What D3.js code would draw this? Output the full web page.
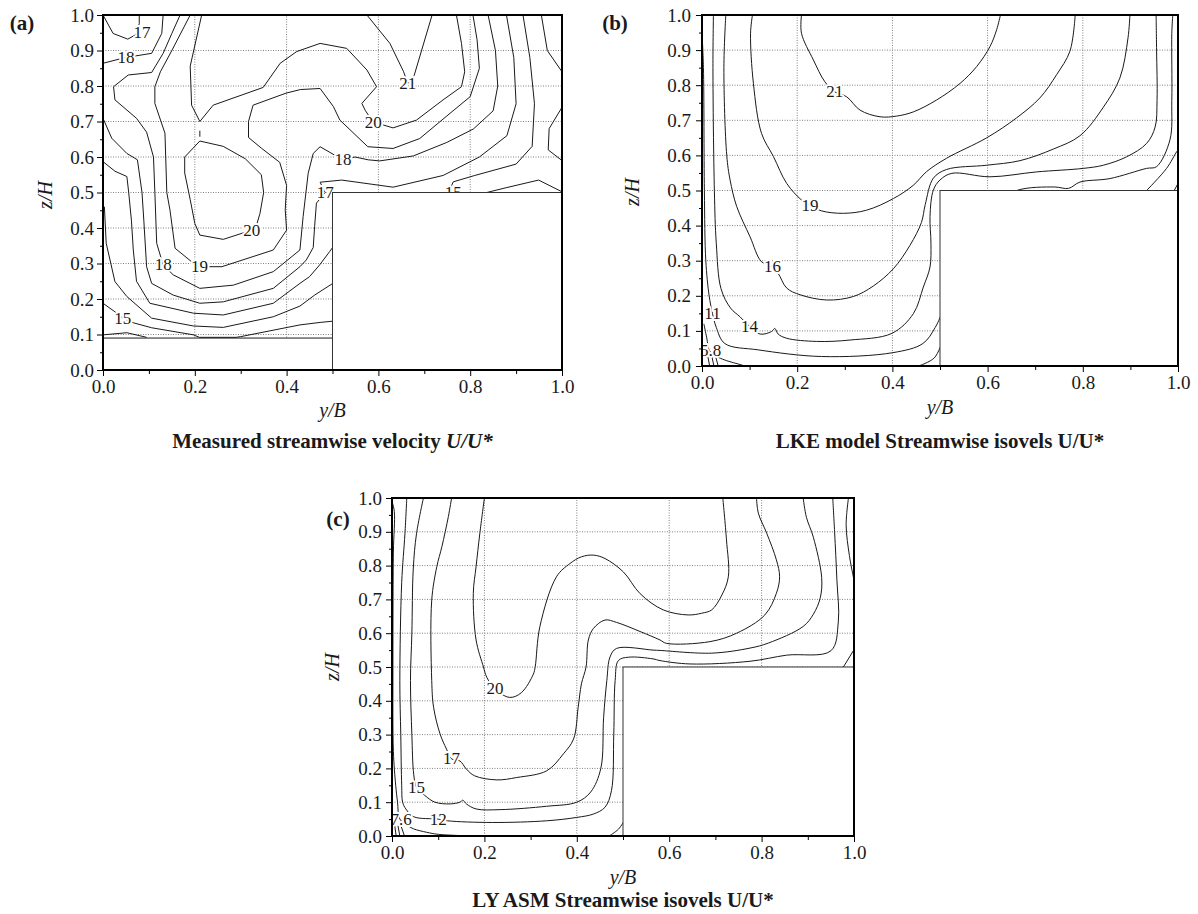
<!DOCTYPE html>
<html>
<head>
<meta charset="utf-8">
<script src="https://d3js.org/d3.v7.min.js"></script>
<style>
body { margin: 0; background: #fff; }
svg text { font-family: "Liberation Serif", "Times New Roman", serif; fill: #1a1a1a; }
.grid line { stroke: #808080; stroke-width: 1; stroke-dasharray: 1,1.5; }
.iso { fill: none; stroke: #1a1a1a; stroke-width: 1; }
.isolabel { font-size: 17px; text-anchor: middle; dominant-baseline: central;
  stroke: #fff; stroke-width: 4px; paint-order: stroke; stroke-linejoin: round; }
.axis .tick text { font-size: 19px; }
.axis .tick line { stroke: #000; }
.title { font-size: 21px; font-weight: bold; text-anchor: middle; }
.letter { font-size: 21px; font-weight: bold; text-anchor: middle; }
.axlabel { font-size: 20px; font-style: italic; text-anchor: middle; }
</style>
</head>
<body>
<svg id="chart" width="1198" height="914"></svg>
<script>
// tick values
var yTicks = [0, 0.1, 0.2, 0.3, 0.4, 0.5, 0.6, 0.7, 0.8, 0.9, 1.0];
var yMinor = [0.05, 0.15, 0.25, 0.35, 0.45, 0.55, 0.65, 0.75, 0.85, 0.95];
var xTicks = [0, 0.2, 0.4, 0.6, 0.8, 1.0];
var xMinor = [0.1, 0.3, 0.5, 0.7, 0.9];
var gridX = [0.2, 0.4, 0.6, 0.8];
var gridZ = [0.1, 0.2, 0.3, 0.4, 0.5, 0.6, 0.7, 0.8, 0.9];

// (a) measured isovels, points are [y/B, z/H]
var isovelsA = [
  [[0,1],[0.022,0.948],[0.054,0.932],[0.072,0.945],[0.079,0.976],[0.079,1]],
  [[0,0.864],[0.048,0.88],[0.106,0.892],[0.128,0.948],[0.131,1]],
  [[0.168,1],[0.15,0.948],[0.131,0.892],[0.106,0.838],[0.055,0.831],[0.023,0.798],[0.026,0.761],[0.073,0.709],[0.095,0.67],[0.11,0.6],[0.113,0.5],[0.117,0.357],[0.131,0.296],[0.153,0.268],[0.211,0.23],[0.284,0.239],[0.371,0.277],[0.429,0.338],[0.436,0.432],[0.447,0.554],[0.458,0.61],[0.473,0.629],[0.505,0.605],[0.523,0.592],[0.549,0.6],[0.578,0.592],[0.603,0.589],[0.676,0.603],[0.749,0.641],[0.807,0.679],[0.85,0.73],[0.86,0.8],[0.855,0.9],[0.839,1]],
  [[0.19,1],[0.15,0.9],[0.125,0.84],[0.113,0.798],[0.113,0.751],[0.135,0.667],[0.139,0.5],[0.146,0.45],[0.157,0.343],[0.193,0.305],[0.21,0.291],[0.259,0.291],[0.371,0.338],[0.4,0.394],[0.397,0.451],[0.4,0.52],[0.385,0.585],[0.345,0.625],[0.317,0.655],[0.317,0.7],[0.327,0.746],[0.399,0.78],[0.43,0.79],[0.473,0.793],[0.502,0.742],[0.516,0.704],[0.577,0.629],[0.632,0.624],[0.69,0.652],[0.756,0.723],[0.8,0.77],[0.82,0.85],[0.815,0.93],[0.806,1]],
  [[0,0.709],[0.019,0.653],[0.052,0.61],[0.075,0.592],[0.085,0.5],[0.089,0.42],[0.095,0.291],[0.106,0.244],[0.153,0.211],[0.211,0.188],[0.262,0.192],[0.371,0.23],[0.429,0.291],[0.443,0.31],[0.458,0.345],[0.461,0.404],[0.465,0.47],[0.484,0.5],[0.473,0.529],[0.52,0.535],[0.632,0.515],[0.741,0.548],[0.82,0.6],[0.88,0.66],[0.9,0.75],[0.895,0.88],[0.879,1]],
  [[0,0.587],[0.026,0.56],[0.052,0.545],[0.056,0.5],[0.062,0.42],[0.066,0.338],[0.073,0.25],[0.102,0.188],[0.197,0.16],[0.262,0.155],[0.371,0.188],[0.429,0.244],[0.45,0.263],[0.472,0.296],[0.494,0.334],[0.52,0.38]],
  [[0.003,0.46],[0.007,0.357],[0.026,0.249],[0.052,0.207],[0.106,0.146],[0.197,0.124],[0.262,0.12],[0.371,0.15],[0.429,0.18],[0.461,0.211],[0.52,0.26]],
  [[0,0.188],[0.026,0.164],[0.043,0.146],[0.066,0.133],[0.106,0.119],[0.197,0.099],[0.21,0.092],[0.29,0.092],[0.3,0.094],[0.429,0.127],[0.473,0.134],[0.52,0.14]],
  [[0,0.099],[0.052,0.105],[0.095,0.092]],
  [[0.342,0.441],[0.335,0.41],[0.324,0.394],[0.262,0.368],[0.211,0.38],[0.2,0.413],[0.19,0.48],[0.178,0.555],[0.178,0.6],[0.211,0.645],[0.262,0.63],[0.31,0.595],[0.345,0.55],[0.35,0.5],[0.342,0.441]],
  [[0.211,0.657],[0.211,0.674]],
  [[0.215,1],[0.19,0.856],[0.193,0.746],[0.211,0.7],[0.24,0.746],[0.349,0.796],[0.386,0.864],[0.422,0.897],[0.473,0.92],[0.531,0.906],[0.575,0.845],[0.596,0.798],[0.564,0.751],[0.571,0.732],[0.589,0.697],[0.611,0.69],[0.632,0.682],[0.683,0.704],[0.741,0.761],[0.781,0.798],[0.788,0.84],[0.781,0.92],[0.77,1]],
  [[0.575,1],[0.625,0.92],[0.655,0.84],[0.664,0.807],[0.678,0.83],[0.717,1]],
  [[0.753,0.5],[0.763,0.53],[0.81,0.548],[0.9,0.58],[0.935,0.63],[0.94,0.75],[0.93,0.88],[0.915,1]],
  [[0.836,0.5],[0.88,0.514],[0.949,0.535],[1,0.502]],
  [[0.955,1],[0.968,0.9],[1,0.84]],
  [[1,0.74],[0.972,0.68],[0.97,0.62],[1,0.59]]
];
var labelsA = [
  ["17", 0.085, 0.952], ["18", 0.05, 0.88], ["21", 0.664, 0.807], ["20", 0.589, 0.697],
  ["18", 0.523, 0.592], ["17", 0.484, 0.5], ["15", 0.763, 0.5], ["20", 0.324, 0.394],
  ["18", 0.131, 0.296], ["19", 0.21, 0.291], ["15", 0.043, 0.146]
];

// (b) LKE model isovels
var isovelsB = [
  [[0,0.95],[0.003,0.85],[0.005,0.5],[0.008,0.3],[0.015,0.2],[0.022,0.15],[0.03,0.11],[0.048,0.064],[0.118,0.046],[0.251,0.027],[0.401,0.038],[0.464,0.064],[0.49,0.11],[0.51,0.17],[0.6,0.45],[0.661,0.5],[0.741,0.51],[0.77,0.506],[0.794,0.524],[0.857,0.534],[0.934,0.563],[0.955,0.568],[0.983,0.644],[0.987,0.757],[0.987,0.948],[0.989,1]],
  [[0.024,1],[0.023,0.85],[0.026,0.5],[0.03,0.35],[0.04,0.22],[0.06,0.165],[0.08,0.14],[0.1,0.113],[0.122,0.091],[0.146,0.098],[0.153,0.107],[0.16,0.091],[0.178,0.079],[0.241,0.07],[0.311,0.074],[0.399,0.093],[0.444,0.149],[0.465,0.225],[0.479,0.282],[0.481,0.35],[0.479,0.426],[0.486,0.501],[0.5,0.53],[0.525,0.549],[0.605,0.539],[0.703,0.553],[0.801,0.563],[0.843,0.572],[0.892,0.596],[0.934,0.634],[0.952,0.681],[0.956,0.757],[0.955,0.9],[0.954,1]],
  [[0.05,1],[0.046,0.85],[0.052,0.6],[0.059,0.53],[0.073,0.454],[0.101,0.368],[0.125,0.297],[0.148,0.283],[0.16,0.264],[0.178,0.222],[0.206,0.203],[0.262,0.188],[0.318,0.198],[0.36,0.228],[0.402,0.277],[0.437,0.344],[0.461,0.409],[0.469,0.46],[0.486,0.535],[0.514,0.56],[0.598,0.572],[0.668,0.585],[0.738,0.618],[0.794,0.656],[0.843,0.737],[0.878,0.821],[0.895,0.935],[0.899,1]],
  [[0.106,1],[0.102,0.948],[0.108,0.805],[0.125,0.663],[0.15,0.597],[0.178,0.52],[0.209,0.473],[0.227,0.458],[0.251,0.442],[0.297,0.435],[0.346,0.444],[0.402,0.477],[0.444,0.515],[0.472,0.554],[0.514,0.592],[0.598,0.65],[0.661,0.707],[0.71,0.764],[0.745,0.83],[0.773,0.897],[0.784,1]],
  [[0.209,1],[0.209,0.948],[0.234,0.872],[0.258,0.81],[0.279,0.781],[0.304,0.767],[0.332,0.729],[0.374,0.71],[0.409,0.712],[0.444,0.724],[0.493,0.758],[0.542,0.805],[0.577,0.853],[0.605,0.91],[0.619,0.958],[0.627,1]],
  [[0.004,0.12],[0.01,0.08],[0.016,0.043],[0.03,0.028],[0.048,0.017],[0.083,0.003],[0.09,0]],
  [[0.012,0.03],[0.016,0]], [[0.02,0.032],[0.025,0]], [[0.028,0.03],[0.034,0]],
  [[0.455,0],[0.488,0.023],[0.505,0.07]],
  [[0.934,0.5],[0.976,0.563],[0.997,0.61],[1,0.615]],
  [[0.992,0.5],[1,0.52]]
];
var labelsB = [
  ["21", 0.279, 0.781], ["19", 0.227, 0.458], ["16", 0.148, 0.283],
  ["11", 0.022, 0.15], ["14", 0.1, 0.113], ["5.8", 0.018, 0.043]
];

// (c) LY ASM isovels
var isovelsC = [
  [[0,0.99],[0.005,0.96],[0.003,0.84],[0.002,0.5],[0.003,0.25],[0.008,0.15],[0.012,0.1],[0.017,0.05],[0.035,0.03],[0.047,0.021],[0.075,0.011],[0.1,0.005],[0.176,0]],
  [[0.032,1],[0.028,0.894],[0.021,0.75],[0.017,0.46],[0.019,0.3],[0.021,0.15],[0.023,0.1],[0.03,0.08],[0.047,0.057],[0.1,0.05],[0.12,0.045],[0.217,0.04],[0.335,0.045],[0.4,0.055],[0.436,0.065],[0.461,0.085],[0.475,0.134],[0.48,0.3],[0.483,0.46],[0.49,0.519],[0.512,0.529],[0.565,0.524],[0.58,0.519],[0.645,0.509],[0.775,0.517],[0.854,0.535],[0.95,0.548],[0.966,0.633],[0.963,0.757],[0.958,0.9],[0.954,1]],
  [[0.068,1],[0.053,0.894],[0.046,0.79],[0.043,0.6],[0.04,0.46],[0.043,0.3],[0.047,0.183],[0.053,0.144],[0.071,0.12],[0.093,0.1],[0.126,0.095],[0.147,0.1],[0.153,0.106],[0.161,0.095],[0.182,0.08],[0.234,0.078],[0.335,0.088],[0.4,0.1],[0.43,0.13],[0.452,0.2],[0.458,0.35],[0.465,0.46],[0.472,0.53],[0.486,0.555],[0.565,0.55],[0.58,0.549],[0.692,0.541],[0.775,0.556],[0.815,0.571],[0.89,0.62],[0.912,0.656],[0.927,0.705],[0.93,0.765],[0.912,0.884],[0.897,0.943],[0.89,1]],
  [[0.129,1],[0.122,0.945],[0.108,0.856],[0.097,0.797],[0.086,0.698],[0.086,0.46],[0.09,0.381],[0.104,0.302],[0.118,0.257],[0.129,0.228],[0.147,0.222],[0.161,0.198],[0.179,0.178],[0.227,0.166],[0.27,0.173],[0.335,0.193],[0.371,0.243],[0.393,0.287],[0.403,0.381],[0.41,0.45],[0.42,0.5],[0.425,0.58],[0.436,0.614],[0.461,0.639],[0.486,0.632],[0.537,0.605],[0.58,0.58],[0.594,0.57],[0.688,0.575],[0.746,0.6],[0.807,0.654],[0.832,0.718],[0.839,0.767],[0.832,0.817],[0.811,0.896],[0.793,0.955],[0.789,1]],
  [[0.2,1],[0.19,0.894],[0.182,0.797],[0.176,0.718],[0.182,0.58],[0.198,0.5],[0.205,0.47],[0.223,0.435],[0.255,0.41],[0.28,0.424],[0.306,0.479],[0.31,0.501],[0.32,0.619],[0.356,0.767],[0.385,0.806],[0.41,0.826],[0.436,0.831],[0.461,0.821],[0.501,0.781],[0.537,0.717],[0.587,0.669],[0.641,0.654],[0.67,0.659],[0.692,0.669],[0.714,0.713],[0.728,0.767],[0.724,0.876],[0.716,1]],
  [[0.988,1],[0.983,0.92],[0.99,0.83],[1,0.757]],
  [[0.977,0.5],[0.999,0.549]],
  [[0.006,0.03],[0.009,0]], [[0.013,0.03],[0.017,0]], [[0.02,0.028],[0.027,0]],
  [[0.47,0],[0.49,0.02],[0.505,0.05]]
];
var labelsC = [
  ["20", 0.223, 0.435], ["17", 0.129, 0.228], ["15", 0.053, 0.144],
  ["12", 0.1, 0.05], ["7.6", 0.02, 0.05]
];

var panels = [
  { letter: "(a)", lines: isovelsA, labels: labelsA, curve: d3.curveLinear,
    left: 103, top: 15, w: 459, h: 355, tickGap: 3, letterPos: [22, 30], zPos: [45, 195],
    yLabelY: 417, titleY: 448, mask: true,
    title: [["Measured streamwise velocity ", false], ["U/U*", true]] },
  { letter: "(b)", lines: isovelsB, labels: labelsB, curve: d3.curveCatmullRom.alpha(0.5),
    left: 702, top: 15, w: 476, h: 351, tickGap: 5, letterPos: [615, 30], zPos: [632, 192],
    yLabelY: 414, titleY: 448, mask: false,
    title: [["LKE model Streamwise isovels U/U*", false]] },
  { letter: "(c)", lines: isovelsC, labels: labelsC, curve: d3.curveCatmullRom.alpha(0.5),
    left: 392, top: 498, w: 462, h: 338, tickGap: 4, letterPos: [338, 526], zPos: [332, 667],
    yLabelY: 884, titleY: 907, mask: false,
    title: [["LY ASM Streamwise isovels U/U*", false]] }
];

var svg = d3.select("#chart");
var fmt = d3.format(".1f");

panels.forEach(function(p) {
  var g = svg.append("g");
  var x = d3.scaleLinear().domain([0, 1]).range([p.left, p.left + p.w]);
  var y = d3.scaleLinear().domain([0, 1]).range([p.top + p.h, p.top]);

  // dotted grid
  var grid = g.append("g").attr("class", "grid");
  grid.selectAll("line.v").data(gridX).join("line").attr("class", "v")
    .attr("x1", d => x(d)).attr("x2", d => x(d)).attr("y1", y(0)).attr("y2", y(1));
  grid.selectAll("line.h").data(gridZ).join("line").attr("class", "h")
    .attr("x1", x(0)).attr("x2", x(1)).attr("y1", d => y(d)).attr("y2", d => y(d));

  // isovels
  var line = d3.line().x(d => x(d[0])).y(d => y(d[1])).curve(p.curve);
  g.selectAll("path.iso").data(p.lines).join("path").attr("class", "iso").attr("d", line);

  g.selectAll("text.isolabel").data(p.labels).join("text").attr("class", "isolabel")
    .attr("x", d => x(d[1])).attr("y", d => y(d[2])).text(d => d[0]);

  // unmeasured strip below z/H = 0.09 in (a)
  if (p.mask) {
    g.append("rect").attr("x", x(0)).attr("y", y(0.09))
      .attr("width", x(0.5) - x(0)).attr("height", y(0) - y(0.09)).attr("fill", "#fff");
    g.append("line").attr("x1", x(0)).attr("x2", x(0.5)).attr("y1", y(0.09)).attr("y2", y(0.09))
      .attr("stroke", "#1a1a1a").attr("stroke-width", 1);
  }

  // the step
  g.append("rect").attr("x", x(0.5)).attr("y", y(0.5))
    .attr("width", x(1) - x(0.5)).attr("height", y(0) - y(0.5))
    .attr("fill", "#fff").attr("stroke", "#333").attr("stroke-width", 1);

  // axes
  var ya = g.append("g").attr("class", "axis").attr("transform", "translate(" + p.left + ",0)")
    .call(d3.axisLeft(y).tickValues(yTicks).tickSize(6).tickPadding(p.tickGap).tickFormat(fmt));
  ya.select(".domain").remove();
  var ym = g.append("g").attr("class", "axis").attr("transform", "translate(" + p.left + ",0)")
    .call(d3.axisLeft(y).tickValues(yMinor).tickSize(3).tickFormat(""));
  ym.select(".domain").remove();

  var xa = g.append("g").attr("class", "axis").attr("transform", "translate(0," + (p.top + p.h) + ")")
    .call(d3.axisBottom(x).tickValues(xTicks).tickSize(6).tickPadding(4).tickFormat(fmt));
  xa.select(".domain").remove();
  var xm = g.append("g").attr("class", "axis").attr("transform", "translate(0," + (p.top + p.h) + ")")
    .call(d3.axisBottom(x).tickValues(xMinor).tickSize(4).tickFormat(""));
  xm.select(".domain").remove();

  // frame
  g.append("rect").attr("x", p.left).attr("y", p.top).attr("width", p.w).attr("height", p.h)
    .attr("fill", "none").attr("stroke", "#000").attr("stroke-width", 2);

  // texts
  g.append("text").attr("class", "letter").attr("x", p.letterPos[0]).attr("y", p.letterPos[1]).text(p.letter);

  g.append("text").attr("class", "axlabel")
    .attr("transform", "translate(" + p.zPos[0] + "," + p.zPos[1] + ") rotate(-90)")
    .attr("dy", "0.35em").text("z/H");

  g.append("text").attr("class", "axlabel").attr("x", x(0.5)).attr("y", p.yLabelY).text("y/B");

  var t = g.append("text").attr("class", "title").attr("x", x(0.5)).attr("y", p.titleY);
  p.title.forEach(function(part) {
    t.append("tspan").attr("font-style", part[1] ? "italic" : "normal").text(part[0]);
  });
});
</script>
</body>
</html>
